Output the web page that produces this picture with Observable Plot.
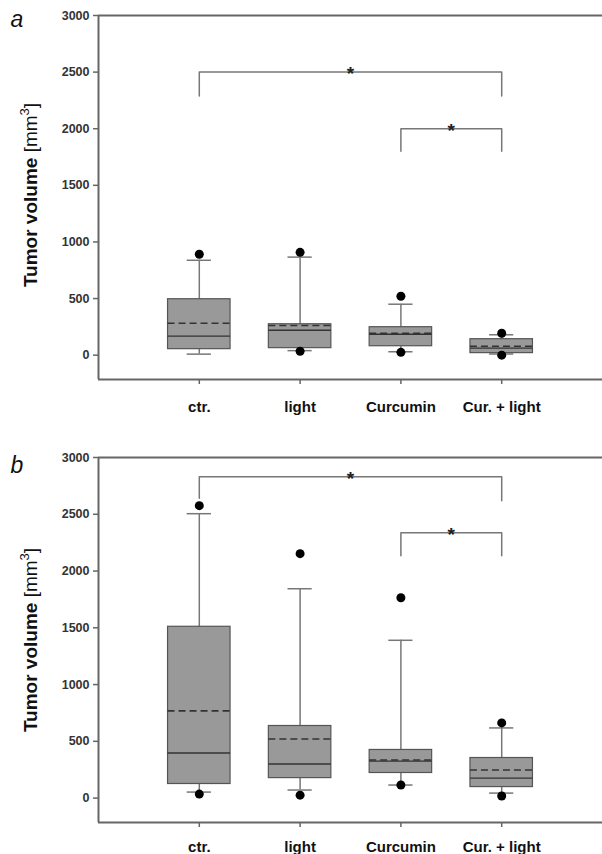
<!DOCTYPE html>
<html>
<head>
<meta charset="utf-8">
<script src="https://cdn.jsdelivr.net/npm/d3@7"></script>
<script src="https://cdn.jsdelivr.net/npm/@observablehq/plot@0.6"></script>
<style>
  body { margin: 0; background: #fff; }
  #chart { width: 602px; }
  #chart svg { display: block; overflow: visible; }
  g[aria-label="x-axis tick label"] text { font-size: 15px; font-weight: bold; fill: #111; }
  g[aria-label="y-axis tick label"] text { font-size: 12.5px; font-weight: bold; fill: #333; }
  g[aria-label="x-axis tick"] path, g[aria-label="y-axis tick"] path { stroke: #666; stroke-width: 1.5; }
</style>
</head>
<body>
<div id="chart"></div>
<script>
// ---- data ----
const categories = ["ctr.", "light", "Curcumin", "Cur. + light"];
const yTicks = [0, 500, 1000, 1500, 2000, 2500, 3000];

// panel a
const aQ1 = [53, 62, 79, 18];
const aMedian = [168, 220, 185, 62];
const aMean = [282, 262, 192, 79];
const aQ3 = [494, 273, 247, 141];
const aLowCap = [9, 40, 30, 10];
const aHighCap = [838, 866, 450, 180];
const aOutHigh = [891, 908, 520, 194];
const aOutLow = [null, 35, 25, 0];
const aBrackets = [
  {from: 1, to: 4, top: 2500, legFrom: 2290, legTo: 2290},
  {from: 3, to: 4, top: 2000, legFrom: 1800, legTo: 1800}
];

// panel b
const bQ1 = [124, 176, 221, 97];
const bMedian = [397, 300, 326, 176];
const bMean = [768, 521, 335, 247];
const bQ3 = [1509, 635, 424, 353];
const bLowCap = [53, 71, 115, 44];
const bHighCap = [2505, 1844, 1390, 618];
const bOutHigh = [2576, 2153, 1765, 662];
const bOutLow = [35, 26, 115, 18];
const bBrackets = [
  {from: 1, to: 4, top: 2830, legFrom: 2640, legTo: 2620},
  {from: 3, to: 4, top: 2338, legFrom: 2135, legTo: 2135}
];

// ---- drawing ----
const BOX = 0.31, CAP = 0.12;
const axisColor = "#666";

function panel({q1, med, mean, q3, lo, hi, outHi, outLo, brackets, marginTop, marginBottom, height, xPad}) {
  const rows = categories.map((c, k) => ({
    i: k + 1, q1: q1[k], med: med[k], mean: mean[k], q3: q3[k], lo: lo[k], hi: hi[k]
  }));
  const outliers = [];
  categories.forEach((c, k) => {
    if (outHi[k] != null) outliers.push({i: k + 1, v: outHi[k]});
    if (outLo[k] != null) outliers.push({i: k + 1, v: outLo[k]});
  });
  const bracketPts = [];
  brackets.forEach((b, j) => {
    bracketPts.push({z: j, x: b.from, y: b.legFrom});
    bracketPts.push({z: j, x: b.from, y: b.top});
    bracketPts.push({z: j, x: b.to, y: b.top});
    bracketPts.push({z: j, x: b.to, y: b.legTo});
  });
  const stars = brackets.map(b => ({x: (b.from + b.to) / 2, y: b.top}));

  return Plot.plot({
    width: 602,
    height,
    marginLeft: 98,
    marginRight: 0,
    marginTop,
    marginBottom,
    style: {fontFamily: "Liberation Sans, Arial, sans-serif", background: "#fff"},
    x: {domain: [0, 5], label: null},
    y: {domain: [-215, 3000], label: null},
    marks: [
      Plot.ruleY([3000], {stroke: axisColor, strokeWidth: 2}),
      Plot.ruleY([-215], {stroke: axisColor, strokeWidth: 2}),
      Plot.ruleX([0], {stroke: axisColor, strokeWidth: 2}),
      // whiskers
      Plot.ruleX(rows, {x: "i", y1: "q3", y2: "hi", stroke: "#777", strokeWidth: 1.5}),
      Plot.ruleX(rows, {x: "i", y1: "lo", y2: "q1", stroke: "#777", strokeWidth: 1.5}),
      // caps
      Plot.ruleY(rows, {y: "hi", x1: d => d.i - CAP, x2: d => d.i + CAP, stroke: "#777", strokeWidth: 1.5}),
      Plot.ruleY(rows, {y: "lo", x1: d => d.i - CAP, x2: d => d.i + CAP, stroke: "#777", strokeWidth: 1.5}),
      // boxes
      Plot.rectY(rows, {x1: d => d.i - BOX, x2: d => d.i + BOX, y1: "q1", y2: "q3", fill: "#999", stroke: "#555", strokeWidth: 1.2}),
      // mean (dashed) & median
      Plot.ruleY(rows, {y: "mean", x1: d => d.i - BOX, x2: d => d.i + BOX, stroke: "#333", strokeWidth: 1.6, strokeDasharray: "7,4"}),
      Plot.ruleY(rows, {y: "med", x1: d => d.i - BOX, x2: d => d.i + BOX, stroke: "#333", strokeWidth: 1.4}),
      // outliers
      Plot.dot(outliers, {x: "i", y: "v", r: 4.5, fill: "#000", stroke: "none"}),
      // significance brackets
      Plot.line(bracketPts, {x: "x", y: "y", z: "z", stroke: "#777", strokeWidth: 1.5}),
      Plot.text(stars, {x: "x", y: "y", text: () => "*", fontSize: 19, fontWeight: "bold", fill: "#222", dy: 2}),
      Plot.axisX({ticks: [1, 2, 3, 4], tickFormat: i => categories[i - 1], tickSize: 5, tickPadding: xPad, label: null}),
      Plot.axisY({ticks: yTicks, tickFormat: d => String(d), tickSize: 5, tickPadding: 4, label: null})
    ]
  });
}

function decorate(svg, letter, letterY, titleY) {
  const s = d3.select(svg);
  s.append("text")
    .attr("x", 17).attr("y", letterY)
    .attr("font-family", "Liberation Sans, Arial, sans-serif")
    .attr("font-style", "italic").attr("font-size", 23).attr("fill", "#111")
    .text(letter);
  const t = s.append("text")
    .attr("transform", `translate(37,${titleY}) rotate(-90)`)
    .attr("text-anchor", "middle")
    .attr("font-family", "Liberation Sans, Arial, sans-serif")
    .attr("font-size", 19).attr("fill", "#111");
  t.append("tspan").attr("font-weight", "bold").text("Tumor volume ");
  t.append("tspan").text("[mm");
  t.append("tspan").attr("font-size", 13).attr("dy", -8).text("3");
  t.append("tspan").attr("dy", 8).text("]");
}

const chart = document.getElementById("chart");
const pa = panel({q1: aQ1, med: aMedian, mean: aMean, q3: aQ3, lo: aLowCap, hi: aHighCap,
  outHi: aOutHigh, outLo: aOutLow, brackets: aBrackets, marginTop: 15, marginBottom: 51, height: 430, xPad: 17});
const pb = panel({q1: bQ1, med: bMedian, mean: bMean, q3: bQ3, lo: bLowCap, hi: bHighCap,
  outHi: bOutHigh, outLo: bOutLow, brackets: bBrackets, marginTop: 27, marginBottom: 32, height: 424, xPad: 14});
chart.appendChild(pa);
chart.appendChild(pb);
decorate(pa, "a", 27, 195);
decorate(pb, "b", 43, 210);
</script>
</body>
</html>
